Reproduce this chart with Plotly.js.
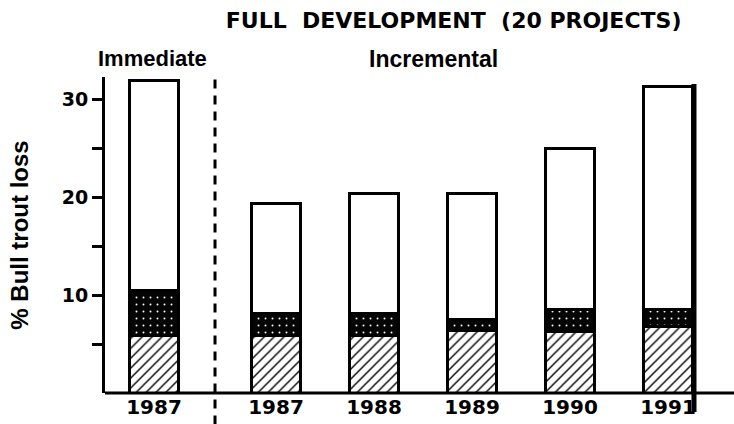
<!DOCTYPE html>
<html>
<head>
<meta charset="utf-8">
<script src="https://cdn.plot.ly/plotly-3.0.1.min.js"></script>
<style>html,body{margin:0;padding:0;background:#fff;}#chart{width:734px;height:424px;}</style>
</head>
<body>
<div id="chart"></div>
<script>
// Categories
const immediateYears = ['1987'];
const incrementalYears = ['1987', '1988', '1989', '1990', '1991'];
// Segment values (% bull trout loss), order: Immediate 1987, then Incremental 1987-1991
const hatchedLoss = [5.9, 5.9, 5.9, 6.4, 6.3, 6.8];
const darkLoss = [4.6, 2.2, 2.2, 1.1, 2.2, 1.7];
const whiteLoss = [21.4, 11.3, 12.3, 12.9, 16.5, 22.8];
// Y tick labels
const yTickVals = [5, 10, 15, 20, 25, 30];
const yTickText = ['', '10', '', '20', '', '30'];

const outline = {color: '#000', width: 3};
const styles = [
  {name: 'hatched', pattern: {shape: '/', bgcolor: '#fff', fgcolor: '#000', size: 7, solidity: 0.2, fillmode: 'replace'}},
  {name: 'dark', pattern: {shape: '.', bgcolor: '#050505', fgcolor: '#fff', size: 7, solidity: 0.06, fillmode: 'replace'}},
  {name: 'white', pattern: null}
];
const series = [hatchedLoss, darkLoss, whiteLoss];

const traces = [];
series.forEach((vals, i) => {
  const st = styles[i];
  const marker = {color: '#fff', line: outline};
  if (st.pattern) marker.pattern = st.pattern;
  traces.push({type: 'bar', x: immediateYears, y: vals.slice(0, 1), xaxis: 'x', yaxis: 'y',
    marker: marker, name: st.name, showlegend: false, hoverinfo: 'y'});
  traces.push({type: 'bar', x: incrementalYears, y: vals.slice(1), xaxis: 'x2', yaxis: 'y',
    marker: marker, name: st.name, showlegend: false, hoverinfo: 'y'});
});

const tickFont = {family: 'DejaVu Sans', size: 19, color: '#000', weight: 'bold'};
const catAxis = {type: 'category', showline: false, showgrid: false, zeroline: false,
  ticks: '', tickfont: Object.assign({}, tickFont, {size: 20}), fixedrange: true, anchor: 'y'};

const layout = {
  width: 734, height: 424,
  margin: {l: 105, r: 0, t: 77, b: 31},
  paper_bgcolor: '#fff', plot_bgcolor: '#fff',
  barmode: 'stack', bargap: 0.5,
  title: {text: 'FULL  DEVELOPMENT  (20 PROJECTS)', x: 0.618, xanchor: 'center', y: 0.953, yanchor: 'middle',
    font: {family: 'DejaVu Sans', size: 22, color: '#000', weight: 'bold'}},
  xaxis: Object.assign({}, catAxis, {domain: [0, 0.1558]}),
  xaxis2: Object.assign({}, catAxis, {domain: [0.194, 0.973]}),
  yaxis: {range: [0, 32.3], tickvals: yTickVals, ticktext: yTickText, ticks: 'outside', ticklen: 10,
    tickwidth: 3, tickcolor: '#000', showline: true, linewidth: 3, linecolor: '#000', showgrid: false,
    zeroline: false, tickfont: tickFont, fixedrange: true,
    title: {text: '% Bull trout loss', standoff: 27, font: {family: 'Liberation Sans', size: 24, color: '#000', weight: 'bold'}}},
  shapes: [
    // baseline
    {type: 'line', xref: 'paper', yref: 'paper', x0: 0, x1: 1, y0: 0, y1: 0, line: {color: '#000', width: 3}},
    // dashed separator
    {type: 'line', xref: 'paper', yref: 'paper', x0: 0.1749, x1: 0.1749, y0: -0.1, y1: 1.0,
      line: {color: '#000', width: 3, dash: '9px,7px'}},
    // heavy right edge line
    {type: 'line', xref: 'paper', yref: 'paper', x0: 0.9364, x1: 0.9364, y0: -0.06, y1: 0.978,
      line: {color: '#000', width: 5}}
  ],
  annotations: [
    {text: 'Immediate', xref: 'paper', yref: 'paper', x: 0.076, y: 1.06, showarrow: false,
      xanchor: 'center', yanchor: 'middle', font: {family: 'Liberation Sans', size: 22, color: '#000', weight: 'bold'}},
    {text: 'Incremental', xref: 'paper', yref: 'paper', x: 0.5215, y: 1.057, showarrow: false,
      xanchor: 'center', yanchor: 'middle', font: {family: 'Liberation Sans', size: 23, color: '#000', weight: 'bold'}}
  ]
};

Plotly.newPlot('chart', traces, layout, {displayModeBar: false, staticPlot: true});
</script>
</body>
</html>
